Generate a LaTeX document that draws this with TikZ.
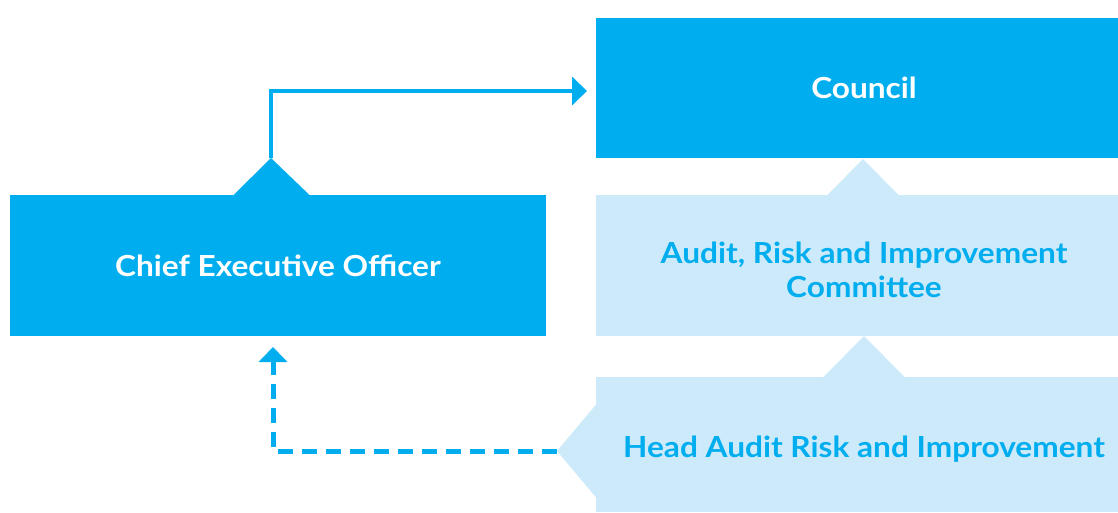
\documentclass[tikz,border=0pt]{standalone}
\usepackage{fontspec}
\setmainfont{Lato}[FakeStretch=1.09]
\usetikzlibrary{arrows.meta}
\definecolor{dblue}{RGB}{0,174,239}
\definecolor{lblue}{RGB}{204,234,249}
\tikzset{
  boxfont/.style={font=\fontsize{29}{35}\selectfont\bfseries},
  darkbox/.style={fill=dblue,text=white,inner sep=0pt,align=center,boxfont},
  lightbox/.style={fill=lblue,text=dblue,inner sep=0pt,align=center,boxfont},
  solidarrow/.style={draw=dblue,line width=4pt,-{Triangle[length=15pt,width=28pt]}},
  dasharrow/.style={draw=dblue,line width=5pt,dash pattern=on 15pt off 9pt,-{Triangle[length=15pt,width=28pt]}}
}
\begin{document}
\begin{tikzpicture}[x=1pt,y=-1pt]
\useasboundingbox (0,0) rectangle (1118,512);
% boxes (right column boxes run past the right edge)
\node[darkbox,minimum width=536pt,minimum height=140pt] (council) at (864,88) {Council};
\node[darkbox,minimum width=536pt,minimum height=141pt] (ceo) at (278,265.5) {Chief Executive Officer};
\node[lightbox,minimum width=536pt,minimum height=141pt] (ari) at (864,265.5) {\raisebox{-14pt}[0pt][0pt]{\begin{tabular}{@{}c@{}}Audit, Risk and Improvement\\[-1pt]Committee\end{tabular}}};
\node[lightbox,minimum width=536pt,minimum height=135pt,text height=32pt,text depth=6pt] (hari) at (864,444.5) {Head Audit Risk and Improvement};
% triangles
\fill[dblue] (233,195.5) -- (271,158) -- (310,195.5) -- cycle;
\coordinate (ceoapex) at (271,158);
\fill[lblue] (827,195.5) -- (863,159) -- (899,195.5) -- cycle;
\fill[lblue] (823,377.5) -- (864,336) -- (905,377.5) -- cycle;
\fill[lblue] (596.5,404) -- (557,451) -- (596.5,498) -- cycle;
\coordinate (hariapex) at (557,451);
\coordinate (ceoin) at (273,347);
\coordinate (councilin) at (587,91);
% connectors
\draw[solidarrow] (ceoapex) |- (councilin);
\draw[dasharrow] (hariapex) -| (ceoin);
\end{tikzpicture}
\end{document}
